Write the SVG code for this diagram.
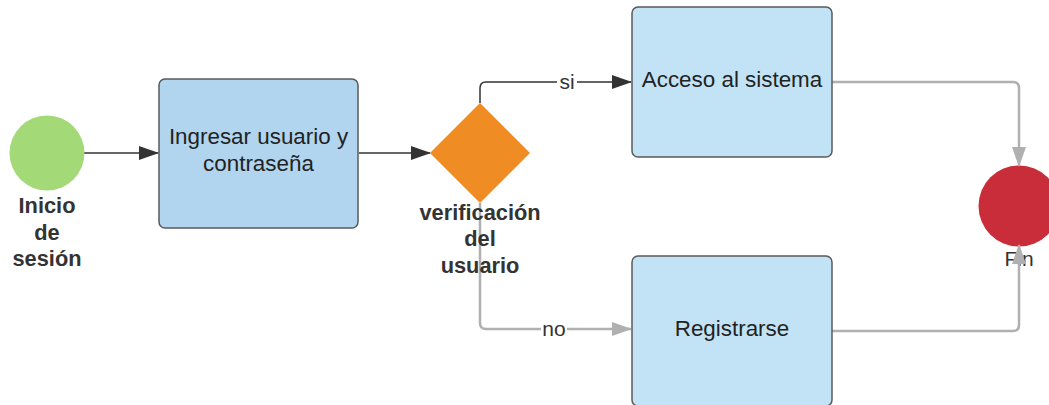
<svg xmlns="http://www.w3.org/2000/svg" width="1049" height="405" viewBox="0 0 1049 405">
<style>
.t{font-family:"Liberation Sans",Arial,sans-serif;font-size:22.4px;fill:#222;text-anchor:middle;dominant-baseline:central}
.b{font-family:"Liberation Sans",Arial,sans-serif;font-size:21.8px;font-weight:bold;fill:#333;text-anchor:middle;dominant-baseline:central}
.box{stroke:#5a5a5a;stroke-width:1.5}
.dk{fill:none;stroke:#333;stroke-width:1.5}
.gr{fill:none;stroke:#b0b0b0;stroke-width:2.5}
.lbl{font-family:"Liberation Sans",Arial,sans-serif;font-size:21px;fill:#333;text-anchor:middle;dominant-baseline:central}
</style>
<defs>
<marker id="ad" markerWidth="20" markerHeight="14" refX="19" refY="7" orient="auto" markerUnits="userSpaceOnUse"><path d="M0,0 L20,7 L0,14 z" fill="#333"/></marker>
<marker id="ag" markerWidth="20" markerHeight="14" refX="19" refY="7" orient="auto" markerUnits="userSpaceOnUse"><path d="M0,0 L20,7 L0,14 z" fill="#b0b0b0"/></marker>
</defs>
<rect width="1049" height="405" fill="#fff"/>
<g id="fin">
<circle cx="1019" cy="206" r="40.5" fill="#c92d39"/>
<text class="lbl" x="1019" y="258">Fin</text>
</g>
<g id="connectors">
<line class="dk" x1="84" y1="153" x2="158" y2="153" marker-end="url(#ad)"/>
<line class="dk" x1="359" y1="153" x2="430" y2="153" marker-end="url(#ad)"/>
<path class="dk" d="M480,103 V88 Q480,82 486,82 H631" marker-end="url(#ad)"/>
<path class="gr" d="M480,203 V323 Q480,329 486,329 H631" marker-end="url(#ag)"/>
<path class="gr" d="M832,82 H1013 Q1019,82 1019,88 V166" marker-end="url(#ag)"/>
<path class="gr" d="M832,331 H1013 Q1019,331 1019,325 V245" marker-end="url(#ag)"/>
<rect x="557" y="72" width="20" height="20" fill="#fff"/>
<text class="lbl" x="567" y="81">si</text>
<rect x="541" y="319" width="26" height="20" fill="#fff"/>
<text class="lbl" x="554" y="328">no</text>
</g>
<g id="inicio">
<circle cx="47" cy="153" r="37.5" fill="#a3d977"/>
<text class="b" x="47" y="205">Inicio</text>
<text class="b" x="47" y="232">de</text>
<text class="b" x="47" y="258">sesión</text>
</g>
<g id="ingresar">
<rect class="box" x="159" y="79" width="199" height="149" rx="6" fill="#b1d5ef"/>
<text class="t" x="258.5" y="136">Ingresar usuario y</text>
<text class="t" x="258.5" y="163">contraseña</text>
</g>
<g id="verificacion">
<polygon points="480,103 530,153 480,203 430,153" fill="#f08c24"/>
<text class="b" x="480" y="212">verificación</text>
<text class="b" x="480" y="238">del</text>
<text class="b" x="480" y="265">usuario</text>
</g>
<g id="acceso">
<rect class="box" x="632" y="7" width="200" height="150" rx="6" fill="#c2e3f6"/>
<text class="t" x="732" y="79">Acceso al sistema</text>
</g>
<g id="registrarse">
<rect class="box" x="632" y="256" width="200" height="150" rx="6" fill="#c2e3f6"/>
<text class="t" x="732" y="328">Registrarse</text>
</g>
</svg>
